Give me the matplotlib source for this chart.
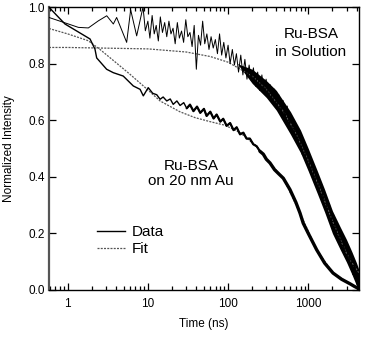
import matplotlib
matplotlib.use("Agg")
import matplotlib.pyplot as plt
from matplotlib.ticker import FixedLocator, FuncFormatter, LogLocator, NullFormatter

plt.rcParams['font.family'] = ['Liberation Sans', 'DejaVu Sans']

# ---------------- data ----------------
# Ru-BSA in solution: measured decay (noisy)
sol_time = [0.585, 1.02, 1.36, 1.81, 2.41, 3.07, 3.71, 4.08, 5.44, 6.1, 7.25, 8.7, 9.3,
            10, 10.6, 11.3, 12, 12.7, 13.5, 14.3, 15.2, 16.2, 17.2,
            18.3, 19.4, 20.6, 21.9, 23.3, 24.7, 26.3, 27.9, 29.7, 31.5,
            33.5, 35.6, 37.8, 40.2, 42.7, 45.4, 48.2, 51.2, 54.4, 57.8,
            61.4, 65.3, 69.4, 73.7, 78.3, 83.2, 88.4, 94, 100, 106,
            113, 120, 127, 135, 144, 153, 162, 172, 183, 195,
            207, 220, 234, 248, 264, 280, 298, 316, 336, 357,
            380, 403, 429, 455, 484, 514, 546, 580, 617, 655,
            696, 740, 786, 835, 887, 943, 1000, 1063, 1129, 1200,
            1275, 1355, 1440, 1530, 1625, 1727, 1835, 1950, 2072, 2201,
            2339, 2485, 2640, 2806, 2981, 3168, 3366, 3576, 3800, 4038, 4250]
sol_value = [0.963, 0.940, 0.928, 0.926, 0.951, 0.969, 0.940, 0.963, 0.875, 0.990, 0.898, 1.000, 0.916,
             0.95, 0.89, 0.97, 0.905, 0.935, 0.88, 0.965, 0.91, 0.945, 0.895,
             0.95, 0.905, 0.925, 0.87, 0.945, 0.89, 0.915, 0.875, 0.955, 0.895,
             0.91, 0.86, 0.935, 0.78, 0.90, 0.865, 0.95, 0.87, 0.905, 0.85,
             0.895, 0.855, 0.885, 0.835, 0.905, 0.83, 0.875, 0.82, 0.865, 0.80,
             0.85, 0.795, 0.835, 0.77, 0.83, 0.76, 0.815, 0.745, 0.795, 0.74,
             0.785, 0.72, 0.77, 0.705, 0.76, 0.695, 0.745, 0.68, 0.725, 0.66,
             0.71, 0.645, 0.69, 0.625, 0.67, 0.605, 0.65, 0.585, 0.62, 0.55,
             0.585, 0.52, 0.55, 0.48, 0.52, 0.45, 0.49, 0.415, 0.45, 0.375,
             0.415, 0.345, 0.38, 0.32, 0.34, 0.28, 0.305, 0.245, 0.265, 0.19,
             0.23, 0.16, 0.20, 0.13, 0.17, 0.095, 0.13, 0.055, 0.09, 0.02, 0.045]

# envelope of the dense noise band (solution, late times)
band_time = [130, 200, 300, 400, 600, 800, 1000, 1300, 1600, 2000, 2500, 3000, 3500, 4000, 4300]
band_upper = [0.80, 0.78, 0.74, 0.705, 0.63, 0.565, 0.50, 0.42, 0.355, 0.28, 0.223, 0.178, 0.135, 0.095, 0.07]
band_lower = [0.80, 0.73, 0.68, 0.635, 0.55, 0.485, 0.42, 0.34, 0.275, 0.20, 0.143, 0.098, 0.055, 0.015, 0.0]

# Ru-BSA in solution: fit
sol_fit_time = [0.585, 1, 10, 30, 60, 100, 200, 300, 500, 700, 1000, 1500, 2000, 2500, 3000, 3500, 4300]
sol_fit_value = [0.857, 0.857, 0.852, 0.841, 0.825, 0.805, 0.756, 0.71, 0.627, 0.555, 0.458,
                 0.336, 0.245, 0.18, 0.13, 0.096, 0.06]

# Ru-BSA on 20 nm Au: measured decay
au_time = [0.585, 0.925, 1.9, 2.19, 2.3, 3.06, 3.7, 4.93, 6.58, 8.0, 8.77, 10.1, 11.5, 12.9,
           14.2, 15.5, 17.2, 19, 20.7, 23, 25.2, 28, 30.5, 33.5, 37, 41, 45, 50, 54, 60,
           66, 72, 80, 87, 96, 106, 117, 128, 141, 155, 170, 187, 206, 227, 250, 275, 300,
           333, 380, 430, 488, 591, 700, 788, 865, 1000, 1273, 1600, 2033, 2600, 3311, 3800, 4250]
au_value = [0.999, 0.94, 0.887, 0.851, 0.82, 0.78, 0.768, 0.756, 0.721, 0.709, 0.686, 0.715, 0.695, 0.69,
            0.674, 0.682, 0.668, 0.675, 0.656, 0.668, 0.652, 0.662, 0.642, 0.655, 0.632, 0.648, 0.626, 0.640, 0.615, 0.630,
            0.606, 0.62, 0.595, 0.605, 0.58, 0.59, 0.565, 0.575, 0.55, 0.556, 0.535, 0.535, 0.515, 0.508, 0.49, 0.48, 0.462,
            0.449, 0.425, 0.41, 0.395, 0.355, 0.31, 0.272, 0.236, 0.20, 0.142, 0.095, 0.06, 0.038, 0.022, 0.012, 0.005]

# Ru-BSA on 20 nm Au: fit
au_fit_time = [0.585, 1.0, 1.8, 2.53, 3.9, 6.0, 9.2, 14.2, 25, 38.8, 59.5, 92, 141, 227, 333,
               488, 788, 1273, 2033, 3311, 4250]
au_fit_value = [0.924, 0.905, 0.881, 0.85, 0.806, 0.762, 0.716, 0.668, 0.630, 0.609, 0.595, 0.582,
                0.556, 0.508, 0.449, 0.395, 0.272, 0.142, 0.06, 0.022, 0.005]

x_ticks = [1, 10, 100, 1000]
y_ticks = [0.0, 0.2, 0.4, 0.6, 0.8, 1.0]

# ---------------- figure ----------------
fig = plt.figure(figsize=(3.68, 3.37), dpi=100)
ax = fig.add_axes([49 / 368, 47 / 337, 310 / 368, 283 / 337])

ax.set_xscale('log')

fit_style = dict(color='#555555', lw=0.9, ls=(0, (1.6, 1.0)))

# solution
ax.fill_between(band_time, band_lower, band_upper, color='black', lw=0, zorder=2)
ax.plot(sol_time, sol_value, color='black', lw=0.7, zorder=3)
ax.plot(sol_fit_time, sol_fit_value, zorder=2.5, **fit_style)

# Au
ax.plot(au_fit_time, au_fit_value, zorder=2.5, label='Fit', **fit_style)
ax.plot(au_time, au_value, color='black', lw=1.0, zorder=3, label='Data')
k1 = au_time.index(30.5)
k2 = au_time.index(250)
ax.plot(au_time[k1:k2 + 1], au_value[k1:k2 + 1], color='black', lw=1.6, zorder=3,
        solid_capstyle='round')
ax.plot(au_time[k2:], au_value[k2:], color='black', lw=2.4, zorder=3,
        solid_capstyle='round')

ax.set_xlim(0.585, 4290)
ax.set_ylim(0, 1.0)

ax.xaxis.set_major_locator(FixedLocator(x_ticks))
ax.xaxis.set_major_formatter(FuncFormatter(lambda v, p: f"{v:g}"))
ax.xaxis.set_minor_locator(LogLocator(base=10, subs=[2, 3, 4, 5, 6, 7, 8, 9], numticks=20))
ax.xaxis.set_minor_formatter(NullFormatter())
ax.yaxis.set_major_locator(FixedLocator(y_ticks))
ax.yaxis.set_major_formatter(FuncFormatter(lambda v, p: f"{v:.1f}"))

ax.tick_params(which='both', direction='in', top=True, right=True, labelsize=8.5,
               width=0.9, colors='black')
ax.tick_params(which='major', length=5)
ax.tick_params(which='minor', length=3)
ax.tick_params(axis='x', pad=5.5)
ax.tick_params(axis='y', pad=3)

for s in ['top', 'right', 'bottom']:
    ax.spines[s].set_linewidth(1.0)
ax.spines['left'].set_linewidth(1.6)
ax.spines['left'].set_color('#555555')

ax.set_xlabel('Time (ns)', fontsize=8.5)
ax.set_ylabel('Normalized Intensity', fontsize=8.5)
ax.xaxis.set_label_coords(0.5, -0.10)
ax.yaxis.set_label_coords(-0.11, 0.5)

ax.text(0.845, 0.873, 'Ru-BSA\nin Solution', transform=ax.transAxes, ha='center',
        va='center', fontsize=11, linespacing=1.3)
ax.text(0.458, 0.412, 'Ru-BSA\non 20 nm Au', transform=ax.transAxes, ha='center',
        va='center', fontsize=11, linespacing=1.05)

handles, labels = ax.get_legend_handles_labels()
order = [labels.index('Data'), labels.index('Fit')]
ax.legend([handles[i] for i in order], [labels[i] for i in order],
          loc='center left', bbox_to_anchor=(0.155, 0.175), frameon=False,
          fontsize=11, handlelength=1.85, handletextpad=0.45, labelspacing=0.2,
          borderpad=0, borderaxespad=0)

fig.savefig('out.png', dpi=100)
